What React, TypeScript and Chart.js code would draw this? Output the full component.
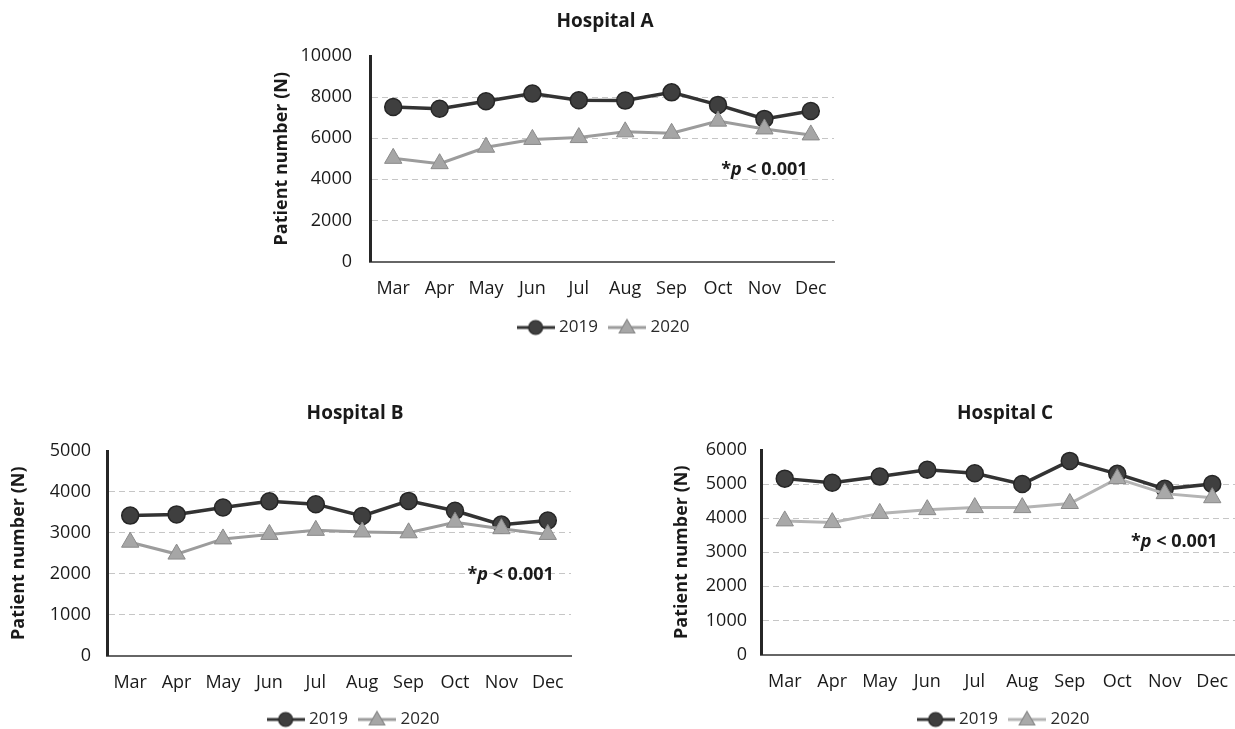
import React, { useEffect, useRef } from "react";
import { Chart, registerables } from "chart.js";

Chart.register(...registerables);

const months = ["Mar", "Apr", "May", "Jun", "Jul", "Aug", "Sep", "Oct", "Nov", "Dec"];
const seriesLabels = ["2019", "2020"];

const hospitalA2019 = [7520, 7430, 7800, 8170, 7850, 7830, 8230, 7620, 6940, 7320];
const hospitalA2020 = [5020, 4760, 5560, 5940, 6030, 6310, 6240, 6830, 6450, 6160];

const hospitalB2019 = [3420, 3450, 3620, 3770, 3700, 3410, 3780, 3540, 3200, 3300];
const hospitalB2020 = [2770, 2480, 2850, 2960, 3060, 3020, 3000, 3260, 3100, 2960];

const hospitalC2019 = [5160, 5040, 5220, 5420, 5320, 5000, 5680, 5300, 4860, 5000];
const hospitalC2020 = [3920, 3870, 4140, 4250, 4310, 4310, 4430, 5160, 4720, 4600];

const pValueText = ["*", "p", " < 0.001"];
const yAxisTitle = "Patient number (N)";

const FONT = '"Open Sans", "DejaVu Sans", sans-serif';
const TEXT = "#1a1a1a";

type PanelProps = {
  title: string;
  d2019: number[];
  d2020: number[];
  yMax: number;
  yStep: number;
  left: number;
  top: number;
  width: number;
  height: number;
  yWidth: number;
  padRight: number;
  titlePadTop: number;
  titlePadBottom: number;
  xHeight: number;
  yTitlePad: number;
  yTickPad: number;
  pIndex: number;
  pValue: number;
  color2020Line: string;
  color2020Fill: string;
};

function makeLegendIcon(kind: string, lineColor: string, fill: string, stroke: string) {
  const c = document.createElement("canvas");
  c.width = 38;
  c.height = 20;
  const ctx = c.getContext("2d")!;
  ctx.strokeStyle = lineColor;
  ctx.lineWidth = 3;
  ctx.beginPath();
  ctx.moveTo(0, 10);
  ctx.lineTo(38, 10);
  ctx.stroke();
  ctx.fillStyle = fill;
  ctx.strokeStyle = stroke;
  ctx.lineWidth = 1.2;
  ctx.beginPath();
  if (kind === "circle") {
    ctx.arc(19, 10, 7, 0, Math.PI * 2);
  } else {
    const r = 9;
    ctx.moveTo(19, 11 - r);
    ctx.lineTo(19 + r * 0.866, 11 + r * 0.5);
    ctx.lineTo(19 - r * 0.866, 11 + r * 0.5);
    ctx.closePath();
  }
  ctx.fill();
  ctx.stroke();
  return c;
}

const pValuePlugin = {
  id: "pval",
  afterDatasetsDraw(chart: any, _args: any, opts: any) {
    const { ctx, scales } = chart;
    const px = scales.x.getPixelForValue(opts.index);
    const py = scales.y.getPixelForValue(opts.value);
    const normal = `bold 18px ${FONT}`;
    const italic = `italic bold 18px ${FONT}`;
    ctx.save();
    const fonts = [normal, italic, normal];
    const widths = pValueText.map((t, i) => {
      ctx.font = fonts[i];
      return ctx.measureText(t).width;
    });
    const total = widths.reduce((a, b) => a + b, 0);
    let x = px - total / 2;
    ctx.fillStyle = TEXT;
    ctx.textBaseline = "middle";
    ctx.textAlign = "left";
    pValueText.forEach((t, i) => {
      ctx.font = fonts[i];
      ctx.fillText(t, x, py);
      x += widths[i];
    });
    ctx.restore();
  },
};

function Panel(p: PanelProps) {
  const ref = useRef<HTMLCanvasElement | null>(null);
  useEffect(() => {
    if (!ref.current) return;
    const icon2019 = makeLegendIcon("circle", "#333333", "#3f3f3f", "#262626");
    const icon2020 = makeLegendIcon("triangle", p.color2020Line, p.color2020Fill, "#8a8a8a");
    const chart = new Chart(ref.current, {
      type: "line",
      data: {
        labels: months,
        datasets: [
          {
            label: seriesLabels[0],
            data: p.d2019,
            borderColor: "#333333",
            borderWidth: 3.5,
            pointStyle: "circle",
            pointRadius: 8.5,
            pointBackgroundColor: "#3f3f3f",
            pointBorderColor: "#262626",
            pointBorderWidth: 1.5,
            order: 2,
            yAxisID: "y",
          },
          {
            label: seriesLabels[1],
            data: p.d2020,
            borderColor: p.color2020Line,
            borderWidth: 3,
            pointStyle: "triangle",
            pointRadius: 10,
            pointBackgroundColor: p.color2020Fill,
            pointBorderColor: "#8a8a8a",
            pointBorderWidth: 1,
            order: 1,
            yAxisID: "y",
          },
        ],
      },
      options: {
        animation: false,
        responsive: false,
        maintainAspectRatio: false,
        events: [],
        layout: { padding: 0 },
        plugins: {
          title: {
            display: true,
            text: p.title,
            color: TEXT,
            font: { family: FONT, size: 19, weight: "bold" },
            padding: { top: p.titlePadTop, bottom: p.titlePadBottom },
          },
          legend: {
            position: "bottom",
            labels: {
              usePointStyle: true,
              pointStyleWidth: 30,
              padding: 14,
              color: "#2a2a2a",
              font: { family: FONT, size: 17 },
              generateLabels: () => [
                { text: seriesLabels[0], pointStyle: icon2019 as any, fontColor: "#2a2a2a", datasetIndex: 0, lineWidth: 0, hidden: false },
                { text: seriesLabels[1], pointStyle: icon2020 as any, fontColor: "#2a2a2a", datasetIndex: 1, lineWidth: 0, hidden: false },
              ],
            },
          },
          tooltip: { enabled: false },
          pval: { index: p.pIndex, value: p.pValue },
        } as any,
        scales: {
          x: {
            type: "category",
            offset: true,
            grid: { display: false, drawTicks: false },
            border: { display: true, color: "#666666", width: 2 },
            ticks: { color: TEXT, font: { family: FONT, size: 18 }, padding: 17, maxRotation: 0, autoSkip: false },
            afterFit: (s: any) => {
              s.height = p.xHeight;
            },
          },
          y: {
            position: "left",
            min: 0,
            max: p.yMax,
            ticks: {
              stepSize: p.yStep,
              color: TEXT,
              font: { family: FONT, size: 18 },
              padding: p.yTickPad,
              callback: (v: any) => String(v),
            },
            grid: {
              drawTicks: false,
              lineWidth: 1,
              color: (c: any) => (c.tick && (c.tick.value === 0 || c.tick.value === p.yMax) ? "rgba(0,0,0,0)" : "#c6c6c6"),
            },
            border: { display: true, color: "#262626", width: 3, dash: [6, 4] },
            title: {
              display: true,
              text: yAxisTitle,
              color: TEXT,
              font: { family: FONT, size: 18, weight: "bold" },
              padding: { top: p.yTitlePad, bottom: 0 },
            },
            afterFit: (s: any) => {
              s.width = p.yWidth;
            },
          },
          spacer: {
            type: "linear",
            axis: "y",
            position: "right",
            display: true,
            min: 0,
            max: 1,
            ticks: { display: false },
            grid: { display: false, drawTicks: false },
            border: { display: false },
            afterFit: (s: any) => {
              s.width = p.padRight;
            },
          },
        },
      } as any,
      plugins: [pValuePlugin as any],
    });
    return () => chart.destroy();
  }, []);
  return (
    <canvas
      ref={ref}
      width={p.width}
      height={p.height}
      style={{ position: "absolute", left: p.left, top: p.top, width: p.width, height: p.height }}
    />
  );
}

export default function App() {
  return (
    <div
      style={{
        position: "fixed",
        left: 0,
        top: 0,
        width: 1235,
        height: 729,
        overflow: "hidden",
        background: "#ffffff",
      }}
    >
      <Panel
        title="Hospital A"
        d2019={hospitalA2019}
        d2020={hospitalA2020}
        yMax={10000}
        yStep={2000}
        left={270}
        top={0}
        width={670}
        height={346}
        yWidth={100}
        padRight={106}
        titlePadTop={10.6}
        titlePadBottom={22.6}
        xHeight={43.5}
        yTitlePad={1}
        yTickPad={18}
        pIndex={8}
        pValue={4450}
        color2020Line="#9c9c9c"
        color2020Fill="#a6a6a6"
      />
      <Panel
        title="Hospital B"
        d2019={hospitalB2019}
        d2020={hospitalB2020}
        yMax={5000}
        yStep={1000}
        left={0}
        top={395}
        width={710}
        height={343}
        yWidth={107}
        padRight={139}
        titlePadTop={7.6}
        titlePadBottom={25.6}
        xHeight={41.5}
        yTitlePad={8}
        yTickPad={16}
        pIndex={8.2}
        pValue={1970}
        color2020Line="#9c9c9c"
        color2020Fill="#a6a6a6"
      />
      <Panel
        title="Hospital C"
        d2019={hospitalC2019}
        d2020={hospitalC2020}
        yMax={6000}
        yStep={1000}
        left={660}
        top={395}
        width={690}
        height={343}
        yWidth={101}
        padRight={114}
        titlePadTop={7.6}
        titlePadBottom={24.6}
        xHeight={42.5}
        yTitlePad={11}
        yTickPad={14}
        pIndex={8.2}
        pValue={3300}
        color2020Line="#b4b4b4"
        color2020Fill="#a9a9a9"
      />
    </div>
  );
}
